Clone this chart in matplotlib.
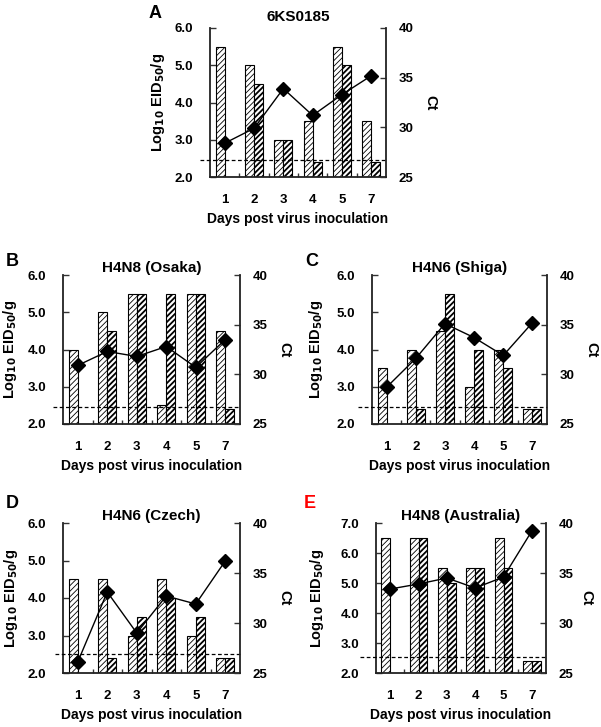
import numpy as np
import matplotlib
matplotlib.use("Agg")
import matplotlib.pyplot as plt

plt.rcParams['font.family'] = ['Liberation Sans', 'DejaVu Sans']
plt.rcParams['font.weight'] = 'bold'
plt.rcParams['mathtext.default'] = 'bf'

days = ["1", "2", "3", "4", "5", "7"]
nan = np.nan

titles = ["6KS0185", "H4N8 (Osaka)", "H4N6 (Shiga)", "H4N6 (Czech)", "H4N8 (Australia)"]
letters = ["A", "B", "C", "D", "E"]

# left (sparse hatch) bars, right (dense hatch) bars  [log10 EID50/g]
a_left = [5.5, 5.0, 3.0, 3.5, 5.5, 3.5]
a_right = [nan, 4.5, 3.0, 2.4, 5.0, 2.4]
a_ct = [28.4, 29.9, 33.9, 31.2, 33.3, 35.2]

b_left = [4.0, 5.0, 5.5, 2.5, 5.5, 4.5]
b_right = [nan, 4.5, 5.5, 5.5, 5.5, 2.4]
b_ct = [30.9, 32.3, 31.8, 32.8, 30.7, 33.5]

c_left = [3.5, 4.0, 4.5, 3.0, 4.0, 2.4]
c_right = [nan, 2.4, 5.5, 4.0, 3.5, 2.4]
c_ct = [28.7, 31.6, 35.1, 33.7, 31.9, 35.2]

d_left = [4.5, 4.5, 3.0, 4.5, 3.0, 2.4]
d_right = [nan, 2.4, 3.5, 4.0, 3.5, 2.4]
d_ct = [26.1, 33.1, 29.0, 32.7, 31.9, 36.2]

e_left = [6.5, 6.5, 5.5, 5.5, 6.5, 2.4]
e_right = [nan, 6.5, 5.0, 5.5, 5.5, 2.4]
e_ct = [33.4, 33.9, 34.5, 33.5, 34.6, 39.2]

detection_limit = [2.45, 2.45, 2.45, 2.5, 2.52]
ymax = [6.0, 6.0, 6.0, 6.0, 7.0]

lefts = [a_left, b_left, c_left, d_left, e_left]
rights = [a_right, b_right, c_right, d_right, e_right]
cts = [a_ct, b_ct, c_ct, d_ct, e_ct]

W, H = 601, 727
fig = plt.figure(figsize=(W / 100, H / 100), dpi=100)

# axes boxes in pixels: left, right, top, bottom
boxes = [(210, 386, 28, 177), (63, 240, 275, 424), (372, 547, 275, 424),
         (63, 240, 523, 673), (376, 546, 523, 673)]
letter_pos = [(155, 13), (12, 262), (312, 262), (12, 503), (310, 503)]
title_pad = [5, 2, 2, 2, 2]
dash_ext = [10, 10, 14, 8, 16]
ylab_off = [43, 44, 47, 43, 50]
ctlab_off = [51, 51, 51, 51, 47]

x = np.arange(len(days))
bw = 0.31
for i in range(5):
    l, r, t, b = boxes[i]
    ax = fig.add_axes([l / W, 1 - b / H, (r - l) / W, (b - t) / H])
    ax.set_xlim(-0.5, len(days) - 0.5)
    ax.set_ylim(2.0, ymax[i])
    with plt.rc_context({'hatch.linewidth': 0.6}):
        ax.bar(x - bw / 2, lefts[i], width=bw, color='white', edgecolor='black',
               hatch='//////', linewidth=0.8, zorder=2)
    with plt.rc_context({'hatch.linewidth': 1.3}):
        ax.bar(x + bw / 2, rights[i], width=bw, color='white', edgecolor='black',
               hatch='//////', linewidth=0.8, zorder=2)
    ext = dash_ext[i] / (r - l)
    ax.plot([-ext, 1], [detection_limit[i]] * 2, transform=ax.get_yaxis_transform(),
            clip_on=False, color='black', lw=0.9, dashes=(3, 2), zorder=3)

    yt = np.arange(2.0, ymax[i] + 0.01, 1.0)
    ax.set_yticks(yt)
    ax.set_yticklabels([f"{v:.1f}" for v in yt])
    ax.set_xticks(np.arange(0.5, len(days) - 1, 1.0))
    ax.set_xticklabels([])
    ax.set_xticks(x, minor=True)
    ax.set_xticklabels(days, minor=True)
    ax.tick_params(axis='x', which='major', direction='in', length=3, width=1, color='#333333')
    ax.tick_params(axis='x', which='minor', length=0, pad=12, labelsize=9.5)
    ax.tick_params(axis='y', direction='in', length=4, width=1, pad=12, labelsize=9.5, color='#333333')
    ax.spines['top'].set_visible(False)
    ax.spines['right'].set_visible(False)
    for s in ['left', 'bottom']:
        ax.spines[s].set_linewidth(1.3)
        ax.spines[s].set_color('#222222')
    ax.set_xlabel("Days post virus inoculation", fontsize=10, fontweight='bold')
    ax.xaxis.set_label_coords(0.5, -35 / (b - t))
    ax.set_ylabel(r"Log$_{10}$ EID$_{50}$/g", fontsize=10.5, fontweight='bold')
    ax.yaxis.set_label_coords(-ylab_off[i] / (r - l), 0.5)
    ax.set_title(titles[i], fontsize=11, fontweight='bold', pad=title_pad[i])

    ax2 = ax.twinx()
    ax2.set_ylim(25, 40)
    ax2.set_yticks([25, 30, 35, 40])
    ax2.plot(x, cts[i], color='black', lw=1.0, marker='D', markersize=7,
             markerfacecolor='black', markeredgecolor='black', zorder=4)
    ax2.tick_params(axis='y', direction='in', length=4, width=1, pad=9, labelsize=9.5, color='#333333')
    ax2.spines['top'].set_visible(False)
    ax2.spines['left'].set_visible(False)
    ax2.spines['bottom'].set_visible(False)
    ax2.spines['right'].set_linewidth(1.3)
    ax2.spines['right'].set_color('#222222')
    ax2.set_ylabel("Ct", fontsize=10.5, fontweight='bold', rotation=270)
    ax2.yaxis.set_label_coords(1 + ctlab_off[i] / (r - l), 0.5)

    lx, ly = letter_pos[i]
    fig.text(lx / W, 1 - ly / H, letters[i], fontsize=13, fontweight='bold',
             color='red' if letters[i] == 'E' else 'black', ha='center', va='center')

fig.savefig("out.png", dpi=100)
